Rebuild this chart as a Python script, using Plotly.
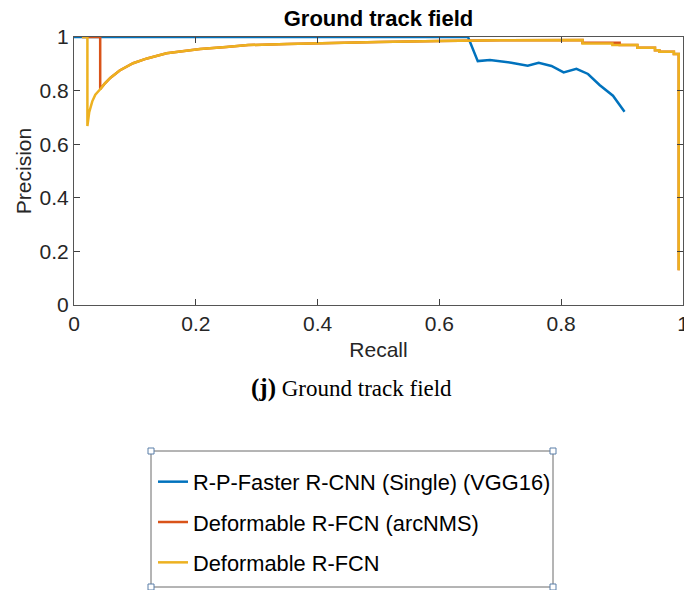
import plotly.graph_objects as go

# Precision-recall curves for the "Ground track field" class
rp_recall = [0.0, 0.647, 0.663, 0.683, 0.718, 0.745, 0.763, 0.784, 0.804, 0.825, 0.844, 0.863, 0.885, 0.904]
rp_precision = [1.0, 1.0, 0.910, 0.914, 0.904, 0.893, 0.904, 0.892, 0.868, 0.881, 0.862, 0.821, 0.781, 0.721]

arc_recall = [0.013, 0.043, 0.043, 0.05, 0.06, 0.075, 0.097, 0.12, 0.152, 0.18, 0.207, 0.25, 0.286, 0.35,
              0.4, 0.5, 0.6, 0.7, 0.835, 0.835, 0.896, 0.896, 0.925, 0.925, 0.954, 0.954, 0.961, 0.961,
              0.985, 0.985, 0.993, 0.993]
arc_precision = [1.0, 1.0, 0.805, 0.825, 0.848, 0.875, 0.902, 0.92, 0.939, 0.948, 0.955, 0.963, 0.970, 0.974,
                 0.977, 0.981, 0.985, 0.988, 0.989, 0.979, 0.979, 0.970, 0.970, 0.960, 0.960, 0.951, 0.951, 0.945,
                 0.945, 0.937, 0.937, 0.13]

dr_recall = [0.013, 0.022, 0.022, 0.025, 0.03, 0.035, 0.043, 0.05, 0.06, 0.075, 0.097, 0.12, 0.152, 0.18,
             0.207, 0.25, 0.286, 0.35, 0.4, 0.5, 0.6, 0.7, 0.835, 0.835, 0.884, 0.884, 0.925, 0.925,
             0.954, 0.954, 0.961, 0.961, 0.985, 0.985, 0.993, 0.993]
dr_precision = [1.0, 1.0, 0.668, 0.72, 0.76, 0.785, 0.805, 0.825, 0.848, 0.875, 0.902, 0.92, 0.939, 0.948,
                0.955, 0.963, 0.970, 0.974, 0.977, 0.981, 0.985, 0.988, 0.989, 0.976, 0.976, 0.970, 0.970, 0.960,
                0.960, 0.951, 0.951, 0.945, 0.945, 0.937, 0.937, 0.13]

series_names = ["R-P-Faster R-CNN (Single) (VGG16)", "Deformable R-FCN (arcNMS)", "Deformable R-FCN"]
series_colors = ["#0072BD", "#D95319", "#EDB120"]

x_ticks = [0, 0.2, 0.4, 0.6, 0.8, 1]
x_tick_text = ["0", "0.2", "0.4", "0.6", "0.8", "1"]
y_ticks = [0, 0.2, 0.4, 0.6, 0.8, 1]
y_tick_text = ["0", "0.2", "0.4", "0.6", "0.8", "1"]

W, H = 684, 590
L, R, T, B = 74, 1, 37, 285
PW, PH = W - L - R, H - T - B


def px_x(px):
    return (px - L) / PW


def px_y(py):
    return 1 - (py - T) / PH


AX_FONT = "Liberation Sans Narrow, Arial Narrow, Liberation Sans, sans-serif"
SANS = "Liberation Sans, Arial, sans-serif"

fig = go.Figure()
for i, (xs, ys) in enumerate([(rp_recall, rp_precision), (arc_recall, arc_precision), (dr_recall, dr_precision)]):
    fig.add_trace(go.Scatter(
        x=xs, y=ys, mode="lines", name=series_names[i], legendgroup=f"g{i}",
        line=dict(color=series_colors[i], width=2.5),
    ))

axis_common = dict(
    showgrid=False, zeroline=False, showline=True, linecolor="#555555", linewidth=1,
    ticks="inside", ticklen=6, tickcolor="#404040", mirror="allticks",
    tickfont=dict(family=AX_FONT, size=21, color="#262626"),
    automargin=False, ticklabeloverflow="allow",
)

fig.update_layout(
    width=W, height=H,
    margin=dict(l=L, r=R, t=T, b=B),
    paper_bgcolor="white", plot_bgcolor="white",
    title=dict(text="<b>Ground track field</b>", x=(L + (W - R)) / 2 / W, xanchor="center",
               y=1 - 18 / H, yanchor="middle",
               font=dict(family=SANS, size=22, color="black")),
    xaxis=dict(range=[0, 1], tickvals=x_ticks, ticktext=x_tick_text,
               title=dict(text="Recall", standoff=8,
                          font=dict(family=AX_FONT, size=21, color="#262626")),
               **axis_common),
    yaxis=dict(range=[0, 1], tickvals=y_ticks, ticktext=y_tick_text,
               title=dict(text="Precision", standoff=2,
                          font=dict(family=AX_FONT, size=21, color="#262626")),
               **axis_common),
    showlegend=True,
    legend=dict(
        x=px_x(153), y=px_y(461), xanchor="left", yanchor="top",
        borderwidth=0, bgcolor="rgba(0,0,0,0)",
        font=dict(family=SANS, size=21.8, color="black"),
        tracegroupgap=9, itemwidth=30,
    ),
    annotations=[dict(
        text="<b><span style='font-size:25px'>(j)</span></b> Ground track field", xref="paper", yref="paper",
        x=px_x(351), y=px_y(388), xanchor="center", yanchor="middle",
        showarrow=False, font=dict(family="Liberation Serif, Times New Roman, serif", size=23, color="black"),
    )],
)

# Legend frame with selection handles at its corners
fig.add_shape(type="rect", xref="paper", yref="paper",
              x0=px_x(151), x1=px_x(553), y0=px_y(587), y1=px_y(451),
              line=dict(color="#6a6a6a", width=1), fillcolor="rgba(0,0,0,0)", layer="below")
for cx, cy in [(151, 451), (553, 451), (151, 587), (553, 587)]:
    fig.add_shape(type="rect", xref="paper", yref="paper",
                  x0=px_x(cx - 3), x1=px_x(cx + 3), y0=px_y(cy + 3), y1=px_y(cy - 3),
                  line=dict(color="#5a7fa8", width=1), fillcolor="white")

fig.write_html("out.html")
